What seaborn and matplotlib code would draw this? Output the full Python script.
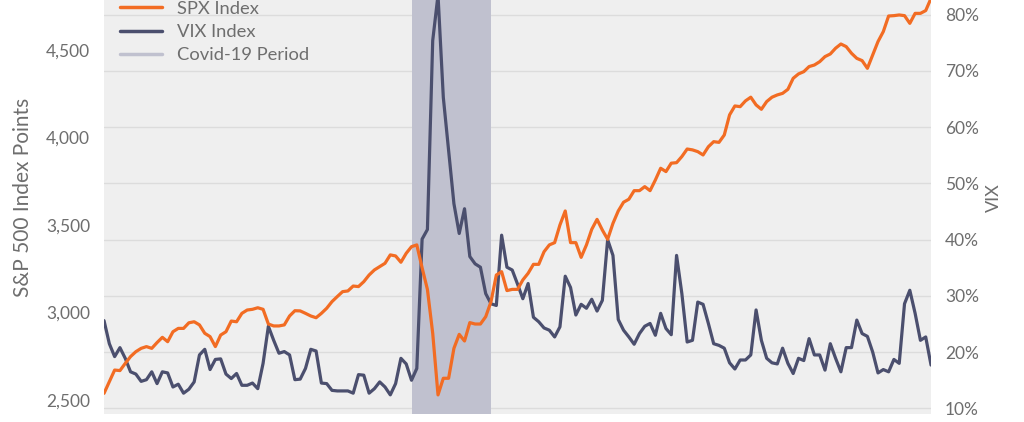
import numpy as np
import pandas as pd
import seaborn as sns
import matplotlib.pyplot as plt
from matplotlib.lines import Line2D
from matplotlib.ticker import FuncFormatter

# weekly closes
start_date = "2019-01-04"
covid_start = "2020-02-14"
covid_end = "2020-05-29"

spx = [2538, 2605, 2671, 2668, 2709, 2748, 2776, 2795, 2805, 2795,
       2828, 2858, 2833, 2890, 2909, 2909, 2941, 2947, 2929, 2881,
       2862, 2805, 2871, 2890, 2951, 2947, 2995, 3014, 3018, 3027,
       3018, 2934, 2923, 2923, 2929, 2980, 3010, 3009, 2995, 2980,
       2970, 2995, 3024, 3062, 3091, 3119, 3123, 3151, 3148, 3176,
       3214, 3243, 3262, 3281, 3329, 3323, 3287, 3338, 3376, 3386,
       3255, 3132, 2881, 2529, 2624, 2624, 2795, 2875, 2837, 2942,
       2934, 2934, 2976, 3062, 3214, 3233, 3125, 3132, 3132, 3186,
       3224, 3275, 3275, 3347, 3386, 3399, 3500, 3580, 3399, 3399,
       3315, 3386, 3475, 3532, 3471, 3418, 3509, 3580, 3630, 3647,
       3696, 3696, 3719, 3696, 3757, 3824, 3805, 3853, 3856, 3891,
       3934, 3929, 3919, 3900, 3947, 3976, 3972, 4014, 4129, 4180,
       4176, 4209, 4230, 4186, 4161, 4205, 4230, 4243, 4252, 4275,
       4338, 4363, 4376, 4405, 4414, 4433, 4462, 4477, 4510, 4534,
       4519, 4481, 4452, 4439, 4395, 4471, 4548, 4605, 4694, 4696,
       4700, 4696, 4652, 4709, 4709, 4725, 4795]

vix = [25.6, 21.5, 19.2, 20.8, 18.9, 16.5, 16.1, 14.8, 15.1, 16.5,
       14.4, 16.5, 16.3, 13.8, 14.3, 12.7, 13.4, 14.7, 19.5, 20.5,
       16.9, 18.7, 18.8, 16.1, 15.3, 16.2, 14.1, 14.1, 14.5, 13.5,
       18.0, 24.6, 22.1, 19.8, 20.1, 19.5, 15.1, 15.2, 17.1, 20.5,
       20.2, 14.5, 14.4, 13.2, 13.1, 13.1, 13.1, 12.7, 16.0, 15.9,
       12.7, 13.5, 14.7, 13.8, 12.4, 14.4, 18.9, 17.9, 15.0, 17.1,
       40.1, 41.8, 75.4, 83.5, 65.3, 55.8, 46.4, 41.1, 45.5, 37.0,
       35.7, 35.1, 30.4, 28.6, 28.3, 40.8, 35.1, 34.6, 32.1, 29.5,
       32.2, 26.2, 25.4, 24.3, 23.9, 22.7, 24.5, 33.5, 31.5, 26.6,
       28.5, 27.8, 29.4, 27.3, 29.2, 40.0, 37.2, 25.8, 23.9, 22.7,
       21.4, 23.3, 24.6, 25.1, 23.0, 26.9, 24.2, 23.1, 37.2, 30.4,
       21.8, 22.1, 28.9, 28.5, 25.1, 21.5, 21.2, 20.7, 18.1, 17.0,
       18.6, 18.6, 19.5, 27.5, 22.1, 18.9, 18.1, 17.9, 20.7, 18.0,
       16.2, 18.9, 18.5, 22.4, 19.5, 19.5, 16.8, 21.5, 18.9, 16.5,
       20.8, 20.8, 25.7, 23.3, 22.8, 20.0, 16.3, 16.9, 16.5, 18.7,
       18.0, 28.6, 31.0, 26.9, 22.1, 22.7, 17.7]

left_ticks = [2500, 3000, 3500, 4000, 4500]
right_ticks = [10, 20, 30, 40, 50, 60, 70, 80]

dates = pd.date_range(start_date, periods=len(spx), freq="W-FRI")
df = pd.DataFrame({"date": dates, "SPX Index": spx, "VIX Index": vix})

orange = "#f26c23"
slate = "#4b4f6e"
shade = "#c0c1cf"
text_col = "#6e6e6e"
tick_fs = 12.5
leg_fs = 13.2

sns.set_style("white")
plt.rcParams["font.family"] = ["Lato", "DejaVu Sans"]

fig = plt.figure(figsize=(10.24, 4.22), dpi=100)
ax = fig.add_axes([0.1016, 0.019, 0.8076, 1.07])
ax.set_facecolor("#efefef")
ax2 = ax.twinx()

# VIX on the base axes so its grid stays underneath everything
ax.axvspan(pd.Timestamp(covid_start), pd.Timestamp(covid_end), color=shade, lw=0, zorder=1)
sns.lineplot(data=df, x="date", y="VIX Index", color=slate, lw=2.3, ax=ax, zorder=3)
sns.lineplot(data=df, x="date", y="SPX Index", color=orange, lw=2.3, ax=ax2, zorder=4)

ax.yaxis.tick_right()
ax.yaxis.set_label_position("right")
ax.set_ylim(9, 89.3)
ax.set_yticks(right_ticks)
ax.yaxis.set_major_formatter(FuncFormatter(lambda v, p: f"{v:.0f}%"))
ax.set_ylabel("VIX", color=text_col, fontsize=13)
ax.yaxis.set_label_coords(1.0665, 0.4795)
ax.grid(axis="y", color="#dcdcdc", lw=1)
ax.grid(axis="x", visible=False)

ax2.yaxis.tick_left()
ax2.yaxis.set_label_position("left")
ax2.set_ylim(2420, 5000)
ax2.set_yticks(left_ticks)
ax2.yaxis.set_major_formatter(FuncFormatter(lambda v, p: f"{v:,.0f}"))
ax2.set_ylabel("S&P 500 Index Points", color=text_col, fontsize=15)
ax2.yaxis.set_label_coords(-0.0855, 0.4795)
ax2.grid(False)

ax.set_xlim(dates[0], dates[-1])
ax.set_xlabel("")
ax.set_xticks([])
ax2.set_xlabel("")

for a in (ax, ax2):
    for s in a.spines.values():
        s.set_visible(False)
    a.tick_params(axis="y", length=0, pad=10, labelcolor=text_col, labelsize=tick_fs)

handles = [Line2D([], [], color=orange, lw=2.5),
           Line2D([], [], color=slate, lw=2.5),
           Line2D([], [], color=shade, lw=2.5)]
leg = ax2.legend(handles, ["SPX Index", "VIX Index", "Covid-19 Period"],
                 loc="center left", bbox_to_anchor=(0.019, 0.846), frameon=False,
                 borderpad=0, borderaxespad=0, handlelength=2.3,
                 handletextpad=0.82, labelspacing=0.4, fontsize=leg_fs)
for t in leg.get_texts():
    t.set_color(text_col)

fig.savefig("out.png", dpi=100)
